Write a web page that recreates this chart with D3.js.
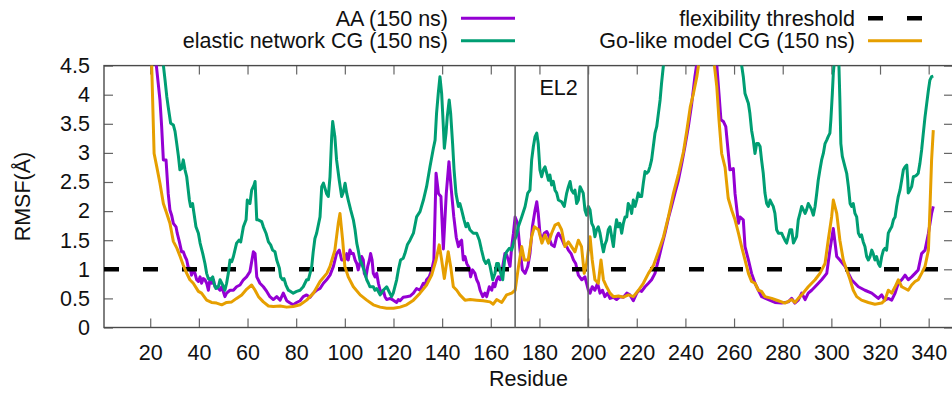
<!DOCTYPE html>
<html>
<head>
<meta charset="utf-8">
<script src="https://cdn.jsdelivr.net/npm/d3@7"></script>
<style>
  html, body { margin: 0; padding: 0; background: #fff; }
  svg { display: block; }
  text { font-family: "Liberation Sans", Arial, Helvetica, sans-serif; fill: #111; }
</style>
</head>
<body>
<svg id="chart" width="952" height="393"></svg>
<script>
// RMSF per residue for the three simulations: [residue, RMSF in Å]
const aaSeries = [[20,5.6],[21,5.0],[22.5,4.51],[24,3.91],[24.7,3.45],[25.4,2.88],[26.5,2.88],[27.4,2.30],[28.1,2.02],[28.8,1.93],[29.5,1.79],[30.6,1.73],[31.1,1.62],[32,1.47],[32.9,1.30],[33.6,1.30],[34.3,1.22],[35,1.16],[35.7,1.02],[36.4,1.02],[37,0.90],[37.7,0.99],[38.4,0.93],[39.1,0.82],[39.8,0.79],[40.5,0.87],[41.1,0.76],[41.8,0.84],[42.5,0.82],[43.2,0.76],[43.9,0.64],[44.6,0.84],[45.3,0.76],[46,0.82],[46.6,0.70],[47.3,0.70],[48.7,0.64],[49.4,0.70],[50.7,0.53],[51.4,0.59],[52.8,0.64],[54.2,0.64],[55.5,0.70],[56.9,0.73],[58.3,0.82],[59.6,0.87],[61,0.96],[62.4,1.30],[63.1,1.27],[63.8,0.87],[65.1,0.76],[66.5,0.70],[67.9,0.62],[69.2,0.53],[70.6,0.48],[72,0.53],[73.4,0.47],[74.7,0.59],[76.1,0.46],[77.5,0.42],[78.8,0.39],[80.2,0.43],[81.6,0.46],[82.9,0.53],[84.3,0.56],[85.7,0.52],[87,0.59],[88.4,0.64],[89.8,0.67],[91.2,0.76],[92.5,0.82],[93.9,0.90],[95.3,1.05],[96.6,1.27],[97.7,1.33],[98.7,1.16],[100.1,1.16],[100.8,1.27],[101.4,1.16],[102.1,1.33],[102.8,1.27],[103.5,1.27],[104.2,1.16],[104.9,1.10],[105.5,0.99],[106.2,1.10],[106.9,1.22],[107.6,1.16],[108,0.93],[108.7,0.87],[109.4,1.05],[110.1,1.16],[110.6,1.27],[111.2,1.16],[111.7,0.93],[112.4,0.87],[113.1,0.93],[113.8,0.76],[114.5,0.64],[115.1,0.59],[115.8,0.64],[116.5,0.53],[117.2,0.48],[118.6,0.50],[119.9,0.47],[121.3,0.43],[122,0.48],[122.7,0.46],[124,0.52],[125.4,0.53],[126.8,0.54],[128.2,0.59],[129.5,0.67],[130.9,0.64],[131.6,0.70],[132.3,0.76],[133,0.73],[133.6,0.82],[134.7,0.87],[135.7,0.99],[136.6,1.16],[137.5,2.65],[138.5,2.30],[139.5,2.25],[140.5,1.35],[141.7,2.30],[142.8,2.85],[143.8,2.35],[144.8,1.90],[145.8,1.55],[146.7,1.39],[147.3,1.47],[148,1.50],[148.7,1.16],[149.4,1.22],[150.1,1.10],[151.2,1.02],[151.7,0.87],[152.5,0.99],[153.5,0.93],[154.2,0.82],[154.9,0.76],[155.6,0.64],[156.7,0.53],[157.6,0.59],[158.3,0.53],[159.4,0.70],[160.4,0.64],[161,0.76],[161.7,0.70],[162.4,0.82],[163.1,0.87],[163.8,0.82],[164.5,0.93],[165.1,1.10],[165.8,1.27],[166.5,1.25],[167.2,1.16],[167.9,1.05],[168.6,1.39],[169.3,1.62],[170,1.90],[171,1.79],[172,1.33],[173,0.99],[174.1,0.93],[175.2,1.05],[176.1,1.27],[177.1,1.73],[178.2,2.02],[178.9,2.16],[179.5,1.96],[180.2,1.62],[180.9,1.50],[182,1.62],[183,1.65],[183.7,1.59],[184.3,1.50],[185,1.42],[186.1,1.39],[187.1,1.56],[187.8,1.62],[189.1,1.53],[190.2,1.42],[191.2,1.39],[191.9,1.33],[193,1.27],[194,1.16],[194.9,1.10],[196,0.90],[197.4,0.82],[198.7,0.87],[200.1,0.64],[200.8,0.59],[201.7,0.70],[202.8,0.64],[203.9,0.76],[204.9,0.59],[205.9,0.64],[206.9,0.53],[208,0.59],[209,0.50],[210.4,0.52],[211.7,0.48],[213.1,0.53],[214.5,0.52],[215.9,0.59],[217.2,0.56],[218.6,0.46],[220,0.59],[221,0.64],[222,0.62],[223.4,0.70],[224.8,0.76],[226.1,0.82],[227.5,0.93],[228.9,1.16],[230.2,1.39],[231.6,1.62],[233,1.88],[234.3,2.08],[235.7,2.31],[237.1,2.53],[238.5,2.82],[239.8,3.11],[241.2,3.45],[242.6,3.85],[243.9,4.31],[244.6,4.51],[246.5,5.1],[248.5,5.3],[251,5.0],[252.9,4.51],[253.8,4.02],[254.6,3.57],[255.6,3.54],[256.6,3.45],[258.3,2.71],[259.7,2.73],[260.4,2.30],[261.8,1.79],[262.4,1.90],[263.8,1.85],[264.5,1.39],[265.9,1.16],[267.2,0.93],[268.6,0.76],[270,0.64],[271.3,0.53],[274.1,0.48],[276.8,0.43],[279.6,0.42],[282.3,0.44],[283.7,0.50],[285,0.42],[286.4,0.47],[287.8,0.59],[289.2,0.48],[290.5,0.59],[291.9,0.64],[293.3,0.70],[296,0.82],[298.1,0.93],[299.4,1.33],[300.8,1.70],[302.2,1.22],[303.5,1.16],[305.6,1.05],[307,0.93],[308.3,0.82],[311.1,0.70],[313.8,0.64],[316.6,0.59],[319.3,0.50],[320.7,0.56],[322,0.47],[323.4,0.50],[324.8,0.47],[326.2,0.59],[327.5,0.76],[328.9,0.82],[330.3,0.90],[331.6,0.82],[333,0.87],[334.4,0.93],[335.7,0.99],[337.1,1.27],[338.5,1.33],[339.9,1.62],[341.2,1.96],[341.9,2.08]];

const elasticSeries = [[21,6.2],[23,5.3],[25.4,4.51],[26.1,4.25],[26.8,3.97],[27.4,3.79],[28.4,3.51],[29.5,3.48],[30.2,3.37],[30.9,3.16],[31.6,2.94],[32.2,2.71],[32.9,2.73],[33.6,2.88],[34.3,2.71],[35,2.59],[36.1,2.19],[36.6,2.08],[37.4,2.13],[38,1.96],[38.8,1.73],[39.8,1.62],[40.5,1.45],[41.6,1.27],[42.5,1.10],[43.2,0.93],[43.9,0.84],[44.8,0.82],[45.7,0.87],[46.2,0.76],[47,0.67],[48,0.70],[48.7,0.82],[49.8,0.73],[50.7,0.64],[51.4,0.76],[52.1,0.93],[52.8,1.16],[53.5,1.13],[54.2,1.22],[55.5,1.45],[56.5,1.50],[57.2,1.47],[58.3,1.73],[59.4,1.85],[59.9,2.19],[61,2.13],[61.7,2.36],[62.7,2.45],[63.1,2.51],[63.8,1.85],[64.4,1.85],[65.8,1.82],[66.5,1.73],[67.6,1.62],[68.6,1.47],[69.5,1.42],[70.3,1.33],[71.3,1.30],[72,1.16],[73.1,1.02],[73.6,0.87],[74.4,0.82],[75,0.84],[75.8,0.73],[76.8,0.64],[77.7,0.62],[78.8,0.59],[80.2,0.62],[81.6,0.64],[82.9,0.70],[84.3,0.82],[85,0.82],[85.7,0.93],[86.4,1.05],[87,1.30],[87.7,1.53],[88.4,1.62],[89.8,1.90],[90.5,2.42],[91.2,2.48],[92.5,2.30],[93.2,2.25],[93.9,2.59],[94.6,3.28],[95,3.54],[95.9,3.28],[96.6,2.88],[97.7,2.53],[98.7,2.25],[99.4,2.33],[100.1,2.48],[100.8,2.30],[101.4,2.19],[102.4,2.02],[103.5,1.85],[104.2,1.68],[104.9,1.45],[105.5,1.33],[106.2,1.16],[106.9,1.10],[107.6,1.02],[108.3,0.93],[109,0.82],[109.7,0.76],[110.3,0.70],[111.7,0.70],[112.4,0.64],[113.1,0.67],[114.5,0.56],[115.8,0.64],[117.2,0.70],[117.9,0.64],[119.2,0.53],[119.9,0.59],[121.3,0.82],[122,0.99],[122.9,1.16],[124,1.19],[124.7,1.27],[125.7,1.42],[126.8,1.50],[128.2,1.62],[129.5,1.90],[130.9,1.99],[132.3,2.19],[133.6,2.42],[134.3,2.59],[135,2.76],[136.4,3.08],[137.1,3.22],[137.7,3.68],[138.4,4.02],[139.1,4.31],[139.8,4.02],[140.5,3.45],[140.9,3.08],[141.6,3.34],[142.1,3.62],[142.9,3.91],[143.5,3.68],[144.3,3.16],[144.9,2.71],[145.7,2.30],[146.7,2.08],[147.3,2.13],[148,2.02],[149,1.85],[149.8,1.73],[150.5,1.79],[151.4,1.68],[152.8,1.62],[154.2,1.62],[155.3,1.50],[156.2,1.33],[157.2,1.16],[158,1.10],[159,1.16],[159.7,1.05],[160.8,0.82],[161.7,0.93],[162.4,1.10],[163.1,1.10],[164.1,0.93],[164.9,0.82],[165.8,1.22],[166.5,1.30],[167.6,1.36],[168.6,1.33],[169.5,1.47],[170.6,1.59],[171.3,1.73],[172.7,1.90],[174.1,2.08],[175.2,2.31],[176.1,2.36],[176.8,2.88],[177.5,3.11],[178.2,3.28],[178.9,3.34],[179.5,3.16],[180.2,2.71],[180.9,2.59],[181.6,2.71],[182.3,2.76],[183,2.65],[183.7,2.53],[184.3,2.62],[185,2.45],[185.7,2.51],[186.4,2.36],[187.1,2.31],[187.8,2.19],[189.1,2.16],[190.2,2.08],[191.2,2.31],[191.9,2.42],[192.6,2.51],[193.2,2.36],[194,2.31],[194.6,2.36],[195.3,2.13],[196,2.19],[196.7,2.42],[197.4,2.36],[198,2.31],[198.7,2.02],[199.4,1.93],[200.1,2.08],[200.8,2.02],[201.5,1.79],[202.2,1.73],[202.8,1.56],[203.5,1.68],[204.2,1.73],[204.9,1.62],[205.6,1.45],[206.3,1.30],[206.9,1.42],[207.6,1.50],[208.3,1.68],[209,1.73],[209.7,1.56],[210.4,1.39],[211.1,1.68],[211.7,1.85],[212.4,1.73],[213.1,1.79],[213.8,1.62],[214.5,1.79],[215.2,1.90],[215.9,1.90],[216.5,2.13],[217.2,2.08],[217.9,1.96],[218.6,2.19],[219.3,2.08],[220,2.19],[220.6,2.31],[221.3,2.25],[222,2.25],[222.7,2.48],[223.4,2.68],[224.1,2.65],[224.8,2.68],[225.4,2.76],[226.1,2.88],[226.8,3.11],[227.5,3.34],[228.2,3.45],[228.9,3.68],[229.6,3.91],[230.2,4.20],[230.9,4.48],[233,5.2],[247,7.0],[261,5.2],[263.1,4.51],[263.8,4.31],[264.5,4.02],[265.9,3.85],[266.5,3.68],[267.2,3.39],[267.9,3.22],[268.6,2.99],[269.3,3.16],[270,3.16],[270.7,3.11],[271.3,2.88],[272,2.65],[272.7,2.31],[273.4,2.13],[274.1,2.08],[274.8,2.19],[275.5,2.13],[276.1,2.08],[276.8,1.96],[277.5,1.68],[278.2,1.62],[279.6,1.62],[280.2,1.56],[280.9,1.50],[281.6,1.45],[282.3,1.56],[283,1.68],[283.7,1.68],[284.4,1.45],[285,1.50],[285.7,1.56],[286.4,1.85],[287.1,1.96],[287.8,2.08],[288.5,2.02],[289.2,1.96],[289.8,2.02],[290.5,2.13],[291.2,2.08],[291.9,2.02],[292.6,1.93],[293.3,2.08],[294,2.31],[294.6,2.53],[295.3,2.71],[296,2.88],[296.7,2.99],[297.4,3.16],[298.1,3.22],[298.7,3.28],[299.4,3.34],[299.8,3.57],[300.4,4.02],[300.8,4.37],[301.1,4.51],[302,5.4],[303.1,4.51],[303.5,3.91],[303.9,3.16],[304.5,2.94],[305.6,2.76],[306.3,2.65],[307,2.42],[307.7,2.13],[308.3,2.08],[309,2.13],[309.7,1.96],[310.4,1.90],[311.1,1.62],[311.8,1.56],[312.4,1.59],[313.1,1.47],[313.8,1.39],[314.5,1.22],[315.2,1.16],[315.9,1.22],[316.6,1.33],[317.2,1.27],[317.9,1.16],[318.6,1.22],[319.3,1.10],[320,1.05],[320.7,1.22],[321.4,1.33],[322,1.36],[322.7,1.33],[323.4,1.62],[324.1,1.68],[324.8,1.73],[325.5,1.85],[326.2,1.90],[326.8,2.08],[327.5,2.25],[328.2,2.36],[328.9,2.53],[329.6,2.71],[330.3,2.76],[331,2.79],[331.4,2.53],[331.6,2.31],[332.3,2.36],[333,2.42],[333.7,2.59],[334.4,2.60],[335.1,2.62],[335.7,2.65],[336.4,2.82],[337.1,3.05],[337.8,3.34],[338.5,3.62],[339.2,3.85],[339.9,4.08],[340.5,4.25],[341.2,4.31],[341.9,4.32]];

const goSeries = [[20,5.4],[20.6,4.51],[21.6,2.99],[22.7,2.76],[24,2.48],[25.4,2.13],[26.8,1.96],[28.1,1.79],[29.5,1.48],[31,1.36],[32.3,1.22],[33.6,1.07],[35,0.93],[36.3,0.82],[37.7,0.76],[39.8,0.62],[41.1,0.59],[43.2,0.47],[45.2,0.43],[47.3,0.42],[49.4,0.39],[51.4,0.43],[53.5,0.44],[55.5,0.50],[57.6,0.56],[59.7,0.66],[61.7,0.73],[63.1,0.64],[64.5,0.53],[66.5,0.44],[68.6,0.37],[70.6,0.36],[73.4,0.37],[76.1,0.35],[78.8,0.36],[81.6,0.39],[84.3,0.47],[87.1,0.59],[89.8,0.79],[92.6,0.93],[93.9,1.05],[95.9,1.33],[97.3,1.79],[98,1.96],[99.1,1.50],[100,1.05],[101.4,0.87],[103.5,0.70],[106.3,0.56],[109,0.47],[111.7,0.39],[114.5,0.35],[117.2,0.33],[120,0.33],[122.7,0.35],[125.4,0.39],[128.2,0.47],[130.9,0.59],[133.6,0.73],[135.7,0.90],[137.5,1.16],[138.8,1.42],[139.8,1.16],[140.9,0.84],[141.8,1.10],[142.5,1.30],[143.5,1.05],[144.6,0.70],[146,0.64],[147.3,0.56],[149.4,0.47],[151.5,0.48],[154.2,0.47],[156.9,0.46],[159.7,0.44],[161,0.40],[162.4,0.48],[164.5,0.43],[166.5,0.56],[168.6,0.59],[170,0.64],[171.4,1.05],[172.7,1.39],[173.8,1.16],[175.4,1.16],[176.8,1.56],[177.9,1.73],[179.6,1.68],[181,1.45],[182.3,1.59],[183.7,1.45],[185,1.62],[186.4,1.76],[187.8,1.79],[189.1,1.68],[190.5,1.39],[191.9,1.47],[193.2,1.39],[194.6,1.30],[196,1.50],[197.3,1.39],[198.4,0.93],[199.4,1.10],[200.8,1.56],[201.7,1.16],[202.8,0.82],[204.2,0.76],[205.3,1.16],[206.3,0.82],[207.6,0.70],[209,0.59],[210.4,0.53],[212.5,0.54],[214.5,0.52],[216.6,0.56],[218.6,0.53],[220.7,0.64],[222.7,0.76],[224.8,0.93],[226.9,1.07],[228.9,1.30],[231,1.56],[233,1.90],[235.1,2.31],[237.2,2.65],[239.2,3.02],[240.6,3.39],[242,3.79],[243.3,4.02],[244.7,4.31],[245.4,4.51],[247,5.0],[249,5.2],[250.5,4.9],[251.9,4.51],[252.9,4.14],[253.8,3.57],[254.9,2.99],[256.3,2.75],[257.6,2.22],[259,2.02],[260.4,1.85],[261.8,1.62],[263.1,1.39],[264.5,1.16],[265.9,0.93],[267.2,0.79],[268.6,0.76],[270,0.64],[271.3,0.62],[272.7,0.53],[275.5,0.50],[278.2,0.46],[280.9,0.42],[283.7,0.48],[285,0.43],[286.4,0.50],[287.8,0.56],[290.5,0.70],[291.9,0.76],[293.3,0.82],[295.3,0.93],[297.4,1.10],[298.7,1.50],[300.1,1.90],[300.8,2.19],[302.2,1.96],[303.5,1.50],[304.9,1.16],[306.3,0.99],[307.7,0.82],[309,0.64],[310.4,0.53],[312.4,0.47],[315.2,0.43],[317.9,0.40],[320.7,0.42],[322,0.47],[323.4,0.64],[324.8,0.59],[326.2,0.70],[327.5,0.82],[328.9,0.70],[330.3,0.67],[331.6,0.64],[333,0.73],[334.4,0.79],[335.7,0.82],[337.1,0.93],[338.5,1.05],[339.9,1.33],[340.5,2.02],[341.2,2.88],[341.9,3.39]];

const flexibilityThreshold = 1.0;
const loopBounds = [170, 200];        // EL2 segment limits (residues)
const loopLabel = { text: "EL2", residue: 180, value: 4.0 };

const xTicks = [20, 40, 60, 80, 100, 120, 140, 160, 180, 200, 220, 240, 260, 280, 300, 320, 340];
const yTicks = [0, 0.5, 1, 1.5, 2, 2.5, 3, 3.5, 4, 4.5];
const xDomain = [1, 350];
const yDomain = [0, 4.5];

const seriesInfo = [
  { name: "AA (150 ns)", data: aaSeries, color: "#9400d3" },
  { name: "elastic network CG (150 ns)", data: elasticSeries, color: "#009e73" },
  { name: "Go-like model CG (150 ns)", data: goSeries, color: "#e69f00" }
];

// ---- layout ----
const W = 952, H = 393;
const plot = { left: 104, right: 953, top: 65.6, bottom: 327.5 };
const FONT = 21.5;
const svg = d3.select("#chart");

const x = d3.scaleLinear().domain(xDomain).range([plot.left, plot.right]);
const y = d3.scaleLinear().domain(yDomain).range([plot.bottom, plot.top]);

svg.append("defs").append("clipPath").attr("id", "plotClip")
  .append("rect")
  .attr("x", plot.left).attr("y", plot.top)
  .attr("width", plot.right - plot.left).attr("height", plot.bottom - plot.top);

const axisColor = "#4a4a4a";
const tickLen = 9;

// axes with inward ticks, mirrored on the opposite sides
const bottomAxis = svg.append("g").attr("transform", `translate(0,${plot.bottom})`)
  .call(d3.axisBottom(x).tickValues(xTicks).tickSize(-tickLen).tickPadding(17).tickFormat(d3.format("d")));
const topAxis = svg.append("g").attr("transform", `translate(0,${plot.top})`)
  .call(d3.axisTop(x).tickValues(xTicks).tickSize(-tickLen).tickFormat(""));
const leftAxis = svg.append("g").attr("transform", `translate(${plot.left},0)`)
  .call(d3.axisLeft(y).tickValues(yTicks).tickSize(-tickLen).tickPadding(14).tickFormat(d => d3.format("")(d)));
const rightAxis = svg.append("g").attr("transform", `translate(${plot.right},0)`)
  .call(d3.axisRight(y).tickValues(yTicks).tickSize(-tickLen).tickFormat(""));

[bottomAxis, topAxis, leftAxis, rightAxis].forEach(g => {
  g.select(".domain").remove();
  g.selectAll(".tick line").attr("stroke", "#666").attr("stroke-width", 1.2);
  g.selectAll(".tick text")
    .attr("font-family", "Liberation Sans, Arial, sans-serif")
    .attr("font-size", FONT).attr("fill", "#111");
});

// plot border
svg.append("rect")
  .attr("x", plot.left).attr("y", plot.top)
  .attr("width", plot.right - plot.left).attr("height", plot.bottom - plot.top)
  .attr("fill", "none").attr("stroke", axisColor).attr("stroke-width", 1.4);

const line = d3.line().x(d => x(d[0])).y(d => y(d[1]));
const body = svg.append("g").attr("clip-path", "url(#plotClip)");

// AA curve, then threshold, then the two CG curves
body.append("path").datum(seriesInfo[0].data)
  .attr("d", line).attr("fill", "none")
  .attr("stroke", seriesInfo[0].color).attr("stroke-width", 3).attr("stroke-linejoin", "round");

body.append("line")
  .attr("x1", plot.left).attr("x2", plot.right)
  .attr("y1", y(flexibilityThreshold)).attr("y2", y(flexibilityThreshold))
  .attr("stroke", "#000").attr("stroke-width", 4.5).attr("stroke-dasharray", "15 24");

seriesInfo.slice(1).forEach(s => {
  body.append("path").datum(s.data)
    .attr("d", line).attr("fill", "none")
    .attr("stroke", s.color).attr("stroke-width", 3).attr("stroke-linejoin", "round");
});

// EL2 boundaries
loopBounds.forEach(r => {
  svg.append("line")
    .attr("x1", x(r)).attr("x2", x(r))
    .attr("y1", plot.top).attr("y2", plot.bottom)
    .attr("stroke", "#666").attr("stroke-width", 1.6);
});
svg.append("text")
  .attr("x", x(loopLabel.residue)).attr("y", y(loopLabel.value))
  .attr("font-size", FONT).text(loopLabel.text);

// axis titles
svg.append("text")
  .attr("x", (plot.left + plot.right) / 2).attr("y", 386)
  .attr("text-anchor", "middle").attr("font-size", FONT).text("Residue");
svg.append("text")
  .attr("transform", `translate(30,${(plot.top + plot.bottom) / 2}) rotate(-90)`)
  .attr("text-anchor", "middle").attr("font-size", FONT).text("RMSF(Å)");

// legend: two columns, text right-aligned before the sample
const legendRows = [
  { label: seriesInfo[0].name, color: seriesInfo[0].color, dash: null, col: 0, row: 0 },
  { label: "flexibility threshold", color: "#000", dash: "15 24", col: 1, row: 0 },
  { label: seriesInfo[1].name, color: seriesInfo[1].color, dash: null, col: 0, row: 1 },
  { label: seriesInfo[2].name, color: seriesInfo[2].color, dash: null, col: 1, row: 1 }
];
const colSampleX = [461, 868];
const rowY = [18.3, 40.7];
const sampleLen = 54;
legendRows.forEach(e => {
  const sx = colSampleX[e.col], sy = rowY[e.row];
  svg.append("text")
    .attr("x", sx - 13).attr("y", sy + 7.5)
    .attr("text-anchor", "end").attr("font-size", FONT).text(e.label);
  const l = svg.append("line")
    .attr("x1", sx).attr("x2", sx + sampleLen).attr("y1", sy).attr("y2", sy)
    .attr("stroke", e.color).attr("stroke-width", e.dash ? 4.5 : 3);
  if (e.dash) l.attr("stroke-dasharray", e.dash);
});
</script>
</body>
</html>
